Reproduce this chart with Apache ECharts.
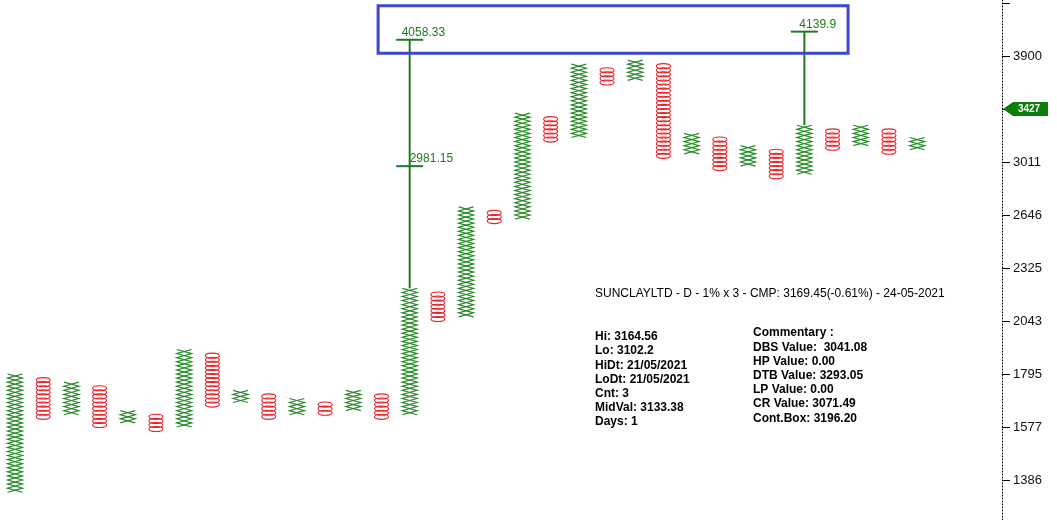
<!DOCTYPE html>
<html>
<head>
<meta charset="utf-8">
<title>SUNCLAYLTD P&amp;F</title>
<script src="https://cdn.jsdelivr.net/npm/echarts@6/dist/echarts.min.js"></script>
<style>
  html, body { margin: 0; padding: 0; background: #fff; }
  #chart-container { width: 1057px; height: 520px; }
</style>
</head>
<body>
<div id="chart-container"></div>
<script>
// point & figure, 1% box x 3 reversal
// column levels are box numbers counted from 1386 (1 box = 1%)
var BASE = 1386;
var BOX = 0.01;

var colType = ['X','O','X','O','X','O','X','O','X','O','X','O','X','O','X','O','X',
               'O','X','O','X','O','X','O','X','O','X','O','X','O','X','O','X'];
var colFrom = [-3, 15, 16, 13, 14, 12, 13, 18, 19, 15, 16, 16, 17, 15, 16, 39, 40,
               63, 64, 83, 84, 97, 98, 79, 80, 76, 77, 74, 75, 81, 82, 80, 81];
var colTo   = [26, 25, 24, 23, 17, 16, 32, 31, 22, 21, 20, 19, 22, 21, 47, 46, 67,
               66, 90, 89, 102, 101, 103, 102, 85, 84, 82, 81, 87, 86, 87, 86, 84];

// y ticks every 13 boxes
var tickLabels = ['1386', '1577', '1795', '2043', '2325', '2646', '3011', '3427', '3900'];
var TICK_STEP = 13;

// vertical count targets
var targetCol = [14, 28];
var targetPrice = [4058.33, 4139.9];
var targetMid = [2981.15, null];

var tagPrice = 3427;

// highlight box round the targets
var boxCols = [12.88, 29.55];
var boxPrices = [3928, 4409];

var infoTitle = 'SUNCLAYLTD - D - 1% x 3 - CMP: 3169.45(-0.61%) - 24-05-2021';
var infoLeft = ['Hi: 3164.56', 'Lo: 3102.2', 'HiDt: 21/05/2021', 'LoDt: 21/05/2021',
                'Cnt: 3', 'MidVal: 3133.38', 'Days: 1'];
var infoRight = ['Commentary :', 'DBS Value:  3041.08', 'HP Value: 0.00', 'DTB Value: 3293.05',
                 'LP Value: 0.00', 'CR Value: 3071.49', 'Cont.Box: 3196.20'];

var GREEN = '#2a8a2a';
var RED = '#ec2228';
var LINE_GREEN = '#1f7a1f';
var FONT = '"Liberation Sans", Arial, sans-serif';

function lvl(p) {
  return Math.log(p / BASE) / Math.log(1 + BOX);
}

var XMIN = -0.532, XMAX = 35.01;
var YMIN = -9.81, YMAX = 117.73;

var labelVals = tickLabels.map(function (t, i) { return i * TICK_STEP; });
var tickVals = labelVals.concat([tickLabels.length * TICK_STEP]);

var dom = document.getElementById('chart-container');
var myChart = echarts.init(dom, null, { renderer: 'canvas' });

var colData = colType.map(function (t, i) {
  return [i, colFrom[i], colTo[i], t === 'X' ? 1 : 0];
});

function renderColumn(params, api) {
  var i = api.value(0), lo = api.value(1), hi = api.value(2), isX = api.value(3);
  var half = 7.5;
  var children = [];
  if (isX) {
    var a = [], b = [];
    for (var k = lo; k <= hi; k++) {
      var pt = api.coord([i, k]);
      var even = (k - lo) % 2 === 0;
      a.push([pt[0] + (even ? -half : half), pt[1]]);
      b.push([pt[0] + (even ? half : -half), pt[1]]);
    }
    children.push({ type: 'polyline', shape: { points: a }, style: { stroke: GREEN, lineWidth: 1.2, fill: 'none' } });
    children.push({ type: 'polyline', shape: { points: b }, style: { stroke: GREEN, lineWidth: 1.2, fill: 'none' } });
  } else {
    var h = api.size([0, 1])[1];
    for (var k2 = lo; k2 < hi; k2++) {
      var c = api.coord([i, k2 + 0.5]);
      children.push({
        type: 'ellipse',
        shape: { cx: c[0], cy: c[1], rx: 7, ry: h * 0.62 },
        style: { stroke: RED, lineWidth: 1.1, fill: 'none' }
      });
    }
  }
  return { type: 'group', children: children };
}

var targetData = targetCol.map(function (c, i) {
  return [c, colTo[c], lvl(targetPrice[i]), targetMid[i] == null ? NaN : lvl(targetMid[i]), i];
});

function renderTarget(params, api) {
  var c = api.value(0), from = api.value(1), to = api.value(2), mid = api.value(3);
  var idx = api.value(4);
  var p0 = api.coord([c, from]);
  var p1 = api.coord([c, to]);
  var w = 13.5;
  var st = { stroke: LINE_GREEN, lineWidth: 2 };
  var children = [
    { type: 'line', shape: { x1: p0[0], y1: p0[1], x2: p1[0], y2: p1[1] }, style: st },
    { type: 'line', shape: { x1: p1[0] - w, y1: p1[1], x2: p1[0] + w, y2: p1[1] }, style: st },
    {
      type: 'text', x: p1[0] - (idx === 0 ? 8 : 5), y: p1[1] - 1,
      style: { text: String(targetPrice[idx]), fill: LINE_GREEN, font: '12px ' + FONT, verticalAlign: 'bottom' }
    }
  ];
  if (!isNaN(mid)) {
    var pm = api.coord([c, mid]);
    children.push({ type: 'line', shape: { x1: pm[0] - w, y1: pm[1], x2: pm[0] + w, y2: pm[1] }, style: st });
    children.push({
      type: 'text', x: pm[0], y: pm[1] - 1,
      style: { text: String(targetMid[idx]), fill: LINE_GREEN, font: '12px ' + FONT, verticalAlign: 'bottom' }
    });
  }
  return { type: 'group', children: children };
}

function renderBox(params, api) {
  var a = api.coord([api.value(0), api.value(3)]);
  var b = api.coord([api.value(1), api.value(2)]);
  return {
    type: 'rect',
    shape: { x: a[0], y: a[1], width: b[0] - a[0], height: b[1] - a[1] },
    style: { stroke: '#3f48cc', lineWidth: 3, fill: 'none' }
  };
}

function renderTag(params, api) {
  var y = api.coord([XMIN, api.value(0)])[1];
  var x = params.coordSys.x + params.coordSys.width + 1;
  return {
    type: 'group',
    children: [
      {
        type: 'polygon',
        shape: { points: [[x, y], [x + 10, y - 7], [x + 45, y - 7], [x + 45, y + 7], [x + 10, y + 7]] },
        style: { fill: '#0b7d0b' }
      },
      {
        type: 'text', x: x + 26, y: y,
        style: { text: String(api.value(1)), fill: '#fff', font: 'bold 10px ' + FONT, align: 'center', verticalAlign: 'middle' }
      }
    ]
  };
}

var option = {
  animation: false,
  backgroundColor: '#fff',
  grid: { left: 0, right: 55, top: 0, bottom: 0, containLabel: false, outerBoundsMode: 'none' },
  xAxis: { type: 'value', min: XMIN, max: XMAX, show: false },
  yAxis: {
    type: 'value',
    position: 'right',
    min: YMIN,
    max: YMAX,
    splitLine: { show: false },
    axisLine: { show: true, onZero: false, lineStyle: { color: '#000', type: [1, 2], width: 1 } },
    axisTick: { show: true, length: 8, customValues: tickVals, lineStyle: { color: '#000' } },
    axisLabel: {
      margin: 11,
      color: '#111',
      fontSize: 13,
      fontFamily: FONT,
      customValues: labelVals,
      formatter: function (v) {
        var idx = Math.round(v / TICK_STEP);
        return tickLabels[idx] || '';
      }
    }
  },
  series: [
    { type: 'custom', name: 'columns', renderItem: renderColumn, data: colData, silent: true },
    { type: 'custom', name: 'targets', renderItem: renderTarget, data: targetData, silent: true },
    {
      type: 'custom', name: 'highlight', renderItem: renderBox, silent: true,
      data: [[boxCols[0], boxCols[1], lvl(boxPrices[0]), lvl(boxPrices[1])]]
    },
    { type: 'custom', name: 'tag', renderItem: renderTag, data: [[lvl(tagPrice), tagPrice]], silent: true, z: 10 }
  ],
  graphic: [
    { type: 'text', left: 595, top: 288, style: { text: infoTitle, font: '12px ' + FONT, fill: '#000' } },
    { type: 'text', left: 595, top: 330, style: { text: infoLeft.join('\n'), font: 'bold 12px ' + FONT, lineHeight: 14.1, fill: '#000' } },
    { type: 'text', left: 753, top: 326, style: { text: infoRight.join('\n'), font: 'bold 12px ' + FONT, lineHeight: 14.2, fill: '#000' } }
  ]
};

if (option && typeof option === 'object') {
  myChart.setOption(option);
}

window.addEventListener('resize', myChart.resize);
</script>
</body>
</html>
